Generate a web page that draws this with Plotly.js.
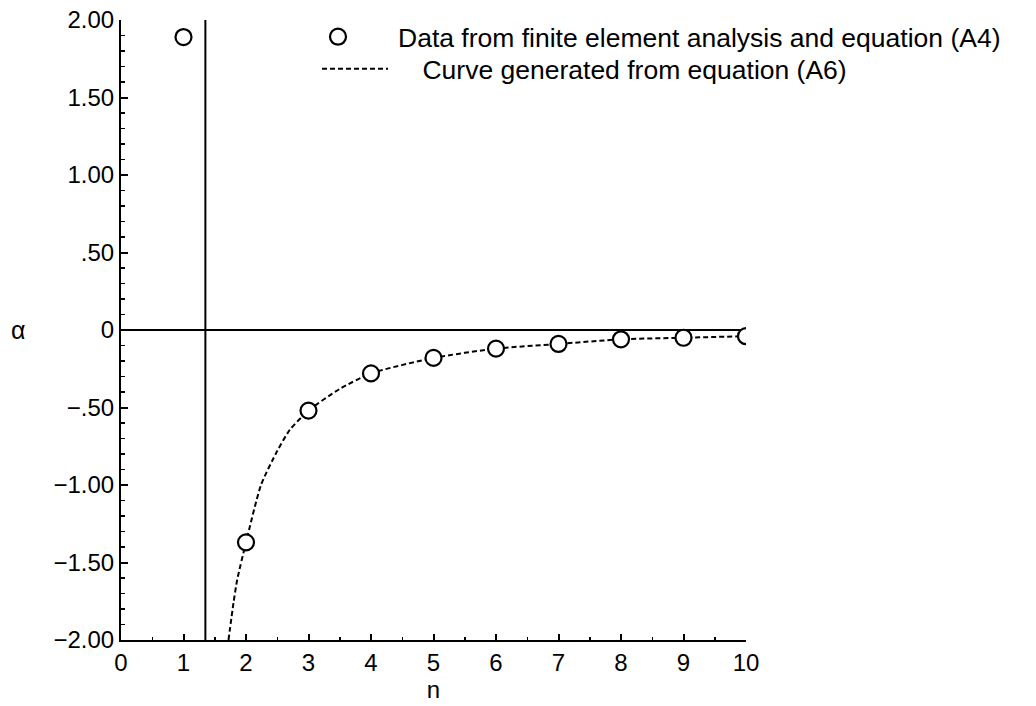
<!DOCTYPE html>
<html>
<head>
<meta charset="utf-8">
<script src="https://cdn.plot.ly/plotly-3.0.1.min.js"></script>
<style>html,body{margin:0;padding:0;background:#fff;}#chart{width:1036px;height:706px;}</style>
</head>
<body>
<div id="chart"></div>
<script>
// Data
const nData = [1, 2, 3, 4, 5, 6, 7, 8, 9, 10];
const alphaData = [1.89, -1.37, -0.52, -0.28, -0.18, -0.12, -0.09, -0.06, -0.05, -0.04];

const nCurve = [1.72, 1.80, 1.86, 2.0, 2.24, 2.5, 2.7, 3.0, 3.5, 4, 5, 6, 7, 8, 9, 10];
const alphaCurve = [-2.0, -1.76, -1.61, -1.37, -1.0, -0.78, -0.645, -0.52, -0.38, -0.28, -0.18, -0.12, -0.09, -0.06, -0.05, -0.04];

const asymptoteN = 1.35;

const yTickVals = [2, 1.5, 1, 0.5, 0, -0.5, -1, -1.5, -2];
const yTickText = ['2.00', '1.50', '1.00', '.50', '0', '\u2212.50', '\u22121.00', '\u22121.50', '\u22122.00'];
const xTickVals = [0, 1, 2, 3, 4, 5, 6, 7, 8, 9, 10];
const xTickText = ['0', '1', '2', '3', '4', '5', '6', '7', '8', '9', '10'];

const dataLabel = 'Data from finite element analysis and equation (A4)';
const curveLabel = 'Curve generated from equation (A6)';

const FONT = '"Liberation Sans", Arial, Helvetica, sans-serif';
const PAD = '\u00a0\u00a0\u00a0\u00a0';

const traces = [
  {
    x: nCurve, y: alphaCurve, type: 'scatter', mode: 'lines',
    name: PAD + curveLabel,
    line: {color: '#000', width: 2, dash: '5px,3px', shape: 'spline', smoothing: 0.6},
    legend: 'legend2'
  },
  {
    x: nData, y: alphaData, type: 'scatter', mode: 'markers',
    name: dataLabel,
    marker: {symbol: 'circle', size: 16, color: '#fff', line: {color: '#000', width: 2.2}},
    legend: 'legend'
  }
];

const legendFont = {family: FONT, size: 26.5, color: '#000'};

const layout = {
  width: 1036, height: 706,
  margin: {l: 121, r: 290, t: 20, b: 66},
  paper_bgcolor: '#fff', plot_bgcolor: '#fff',
  font: {family: FONT, color: '#000', size: 24},
  showlegend: true,
  legend: {x: 0.2512, y: 0.9726, xanchor: 'left', yanchor: 'middle', bgcolor: 'rgba(0,0,0,0)',
           font: legendFont, itemwidth: 110},
  legend2: {x: 0.3136, y: 0.9210, xanchor: 'left', yanchor: 'middle', bgcolor: 'rgba(0,0,0,0)',
            font: legendFont, itemwidth: 66},
  xaxis: {
    range: [0, 10], showgrid: false, zeroline: false,
    showline: true, linecolor: '#000', linewidth: 2,
    ticks: 'inside', ticklen: 6, tickwidth: 2, tickcolor: '#000',
    tickvals: xTickVals, ticktext: xTickText,
    tickfont: {family: FONT, size: 24, color: '#000'},
    minor: {dtick: 0.5, ticks: 'inside', ticklen: 3, tickwidth: 1.5, tickcolor: '#000', showgrid: false},
    title: {text: 'n', font: {family: FONT, size: 24, color: '#000'}, standoff: 2}
  },
  yaxis: {
    range: [-2, 2], showgrid: false,
    zeroline: true, zerolinecolor: '#000', zerolinewidth: 2,
    showline: true, linecolor: '#000', linewidth: 2,
    ticks: 'inside', ticklen: 7, tickwidth: 2, tickcolor: '#000',
    tickvals: yTickVals, ticktext: yTickText,
    tickfont: {family: FONT, size: 24, color: '#000'},
    minor: {dtick: 0.1, ticks: 'inside', ticklen: 4, tickwidth: 1.5, tickcolor: '#000', showgrid: false}
  },
  shapes: [
    {type: 'line', xref: 'x', yref: 'y', x0: asymptoteN, x1: asymptoteN, y0: -2, y1: 2,
     line: {color: '#000', width: 2}}
  ],
  annotations: [
    {text: '\u03b1', xref: 'paper', yref: 'y', x: -0.165, y: 0, xanchor: 'center', yanchor: 'middle',
     showarrow: false, font: {family: FONT, size: 25, color: '#000'}}
  ]
};

Plotly.newPlot('chart', traces, layout, {displayModeBar: false, staticPlot: true});
</script>
</body>
</html>
